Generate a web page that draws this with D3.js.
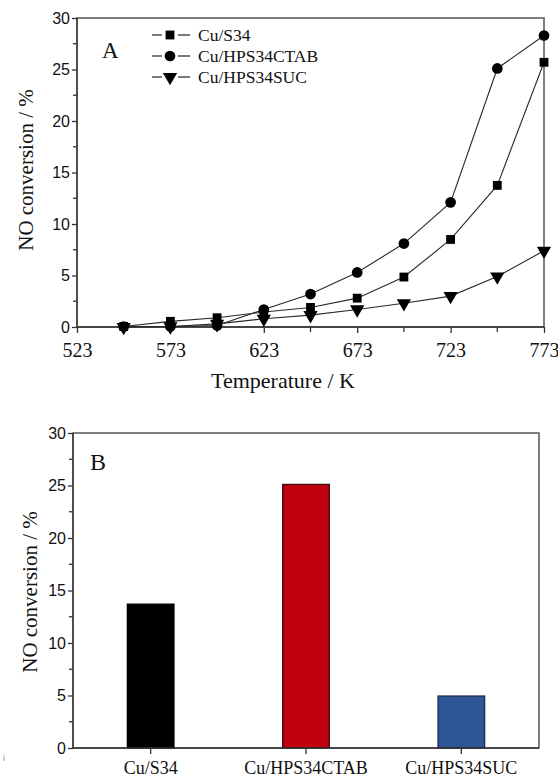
<!DOCTYPE html>
<html>
<head>
<meta charset="utf-8">
<script src="https://cdn.jsdelivr.net/npm/d3@7"></script>
<style>
body { margin: 0; background: #fff; }
svg { display: block; }
.serif { font-family: "Liberation Serif", "Times New Roman", serif; fill: #111; }
.sans { font-family: "Liberation Sans", Arial, sans-serif; fill: #111; }
.frame { fill: none; stroke: #555; stroke-width: 1.5; }
.axis path, .axis line { stroke: #333; stroke-width: 1.3; }
.line { fill: none; stroke: #2a2a2a; stroke-width: 1.1; }
</style>
</head>
<body>
<div class="container"></div>
<script>
const WIDTH = 558;
const HEIGHT = 780;

// panel A
var temperatures = [548, 573, 598, 623, 648, 673, 698, 723, 748, 773];
var cuS34 = [0.05, 0.55, 0.9, 1.45, 1.9, 2.8, 4.85, 8.5, 13.75, 25.7];
var cuCTAB = [0.05, 0.05, 0.15, 1.7, 3.2, 5.3, 8.1, 12.1, 25.1, 28.3];
var cuSUC = [0, 0.05, 0.3, 0.8, 1.15, 1.7, 2.3, 3.0, 4.9, 7.4];
var seriesNames = ["Cu/S34", "Cu/HPS34CTAB", "Cu/HPS34SUC"];
var xTicksA = [523, 573, 623, 673, 723, 773];
var yTicks = [0, 5, 10, 15, 20, 25, 30];

// panel B
var catalysts = ["Cu/S34", "Cu/HPS34CTAB", "Cu/HPS34SUC"];
var conversionAt748 = [13.7, 25.1, 4.95];
var barColors = ["#000000", "#c0000f", "#2e5596"];
var barStrokes = ["#000000", "#3a0a0a", "#1c2c4c"];

var translate = function(x, y) {
    return `translate(${x},${y})`;
};

var svg = d3.select('.container').append('svg')
    .attr('width', WIDTH)
    .attr('height', HEIGHT);

var symbols = [
    d3.symbol().type(d3.symbolSquare).size(78),
    d3.symbol().type(d3.symbolCircle).size(90),
    d3.symbol().type(d3.symbolTriangle).size(88)
];
var rotations = [0, 0, 180];

var yTitle = function(x, y) {
    svg.append('text')
        .classed('serif', true)
        .attr('transform', translate(x, y) + ' rotate(-90)')
        .attr('text-anchor', 'middle')
        .style('font-size', '21px')
        .text('NO conversion / %');
};

var minorTicks = function(g, values, pos, horizontal) {
    g.selectAll('line.minor').data(values).enter()
        .append('line')
        .attr('stroke', '#333')
        .attr('stroke-width', 1.2)
        .attr('x1', (d) => horizontal ? pos(d) : 0)
        .attr('x2', (d) => horizontal ? pos(d) : -4)
        .attr('y1', (d) => horizontal ? 0 : pos(d))
        .attr('y2', (d) => horizontal ? 5 : pos(d));
};

var drawPanelA = function() {
    var L = 77, R = 544, T = 18, B = 327;
    var xScale = d3.scaleLinear().domain([523, 773]).range([L, R]);
    var yScale = d3.scaleLinear().domain([0, 30]).range([B, T]);

    svg.append('rect').classed('frame', true)
        .attr('x', L).attr('y', T).attr('width', R - L).attr('height', B - T);

    var xAxis = d3.axisBottom(xScale).tickValues(xTicksA).tickSize(6).tickFormat(d3.format('d'));
    var gx = svg.append('g').classed('axis', true)
        .attr('transform', translate(0, B))
        .call(xAxis);
    gx.selectAll('text').classed('serif', true)
        .style('font-size', '20px').attr('dy', '1.05em');
    gx.select('.domain').attr('d', `M${L},0H${R}`);
    minorTicks(gx, [548, 598, 648, 698, 748], xScale, true);

    var yAxis = d3.axisLeft(yScale).tickValues(yTicks).tickSize(5);
    var gy = svg.append('g').classed('axis', true)
        .attr('transform', translate(L, 0))
        .call(yAxis);
    gy.selectAll('text').classed('sans', true).style('font-size', '16px').attr('x', -7);
    gy.select('.domain').attr('d', `M0,${B}V${T}`);
    minorTicks(gy, [2.5, 7.5, 12.5, 17.5, 22.5, 27.5], yScale, false);

    var allSeries = [cuS34, cuCTAB, cuSUC];
    var line = d3.line()
        .x((d, i) => xScale(temperatures[i]))
        .y((d) => yScale(d));

    allSeries.forEach(function(values, s) {
        var g = svg.append('g');
        g.append('path').classed('line', true).attr('d', line(values));
        g.selectAll('path.mark').data(values).enter()
            .append('path')
            .attr('d', symbols[s]())
            .attr('fill', '#000')
            .attr('transform', (d, i) => translate(xScale(temperatures[i]), yScale(d)) + ` rotate(${rotations[s]})`);
    });

    // legend
    var legend = svg.append('g');
    seriesNames.forEach(function(name, s) {
        var y = 35 + s * 21;
        legend.append('line').attr('x1', 152).attr('x2', 162).attr('y1', y).attr('y2', y)
            .attr('stroke', '#222').attr('stroke-width', 1.2);
        legend.append('line').attr('x1', 178).attr('x2', 190).attr('y1', y).attr('y2', y)
            .attr('stroke', '#222').attr('stroke-width', 1.2);
        legend.append('path').attr('d', symbols[s]()).attr('fill', '#000')
            .attr('transform', translate(170, y) + ` rotate(${rotations[s]})`);
        legend.append('text').classed('serif', true)
            .attr('x', 198).attr('y', y + 6)
            .style('font-size', '17.5px')
            .text(name);
    });

    svg.append('text').classed('serif', true)
        .attr('x', 102).attr('y', 58).style('font-size', '23px').text('A');

    svg.append('text').classed('serif', true)
        .attr('x', 283).attr('y', 388)
        .attr('text-anchor', 'middle')
        .style('font-size', '22px')
        .text('Temperature / K');

    yTitle(33, 170);
};

var drawPanelB = function() {
    var L = 73, R = 539, T = 433, B = 748;
    var xScale = d3.scaleBand().domain(catalysts).range([L, R])
        .paddingInner(0.7).paddingOuter(0.35);
    var yScale = d3.scaleLinear().domain([0, 30]).range([B, T]);

    svg.append('rect').classed('frame', true)
        .attr('x', L).attr('y', T).attr('width', R - L).attr('height', B - T);

    svg.append('g').selectAll('rect').data(conversionAt748).enter()
        .append('rect')
        .attr('x', (d, i) => xScale(catalysts[i]))
        .attr('y', (d) => yScale(d))
        .attr('width', xScale.bandwidth())
        .attr('height', (d) => B - yScale(d))
        .attr('fill', (d, i) => barColors[i])
        .attr('stroke', (d, i) => barStrokes[i])
        .attr('stroke-width', 1.3);

    var xAxis = d3.axisBottom(xScale).tickSize(6);
    var gx = svg.append('g').classed('axis', true)
        .attr('transform', translate(0, B))
        .call(xAxis);
    gx.selectAll('text').classed('serif', true)
        .style('font-size', '18px').attr('y', 0).attr('dy', 0)
        .attr('transform', translate(0, 26));
    gx.select('.domain').attr('d', `M${L},0H${R}`);

    var yAxis = d3.axisLeft(yScale).tickValues(yTicks).tickSize(5);
    var gy = svg.append('g').classed('axis', true)
        .attr('transform', translate(L, 0))
        .call(yAxis);
    gy.selectAll('text').classed('sans', true).style('font-size', '16px').attr('x', -7);
    gy.select('.domain').attr('d', `M0,${B}V${T}`);
    minorTicks(gy, [2.5, 7.5, 12.5, 17.5, 22.5, 27.5], yScale, false);

    svg.append('text').classed('serif', true)
        .attr('x', 90).attr('y', 470).style('font-size', '24px').text('B');

    yTitle(37, 592);

    // stray mark at the left edge of the scan
    svg.append('text').classed('sans', true)
        .attr('x', 3).attr('y', 761)
        .style('font-size', '9px').style('fill', '#888')
        .text('i');
};

window.onload = function() {
    drawPanelA();
    drawPanelB();
};
</script>
</body>
</html>
